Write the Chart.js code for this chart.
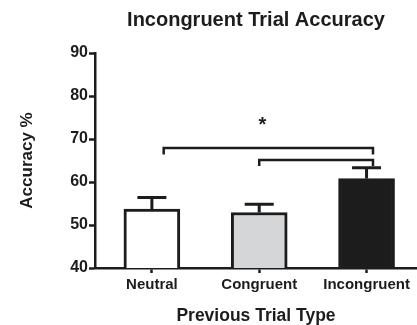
<!DOCTYPE html>
<html>
<head>
<meta charset="utf-8">
<script src="https://cdn.jsdelivr.net/npm/chart.js@4.4.1/dist/chart.umd.min.js"></script>
<style>
  html, body { margin: 0; padding: 0; background: #fff; }
  #wrap { width: 417px; height: 325px; }
</style>
</head>
<body>
<div id="wrap"><canvas id="chart"></canvas></div>
<script>
const categories = ['Neutral', 'Congruent', 'Incongruent'];
const accuracy = [53.7, 52.9, 60.8];
const sem = [2.7, 1.9, 2.5];
const barColors = ['#ffffff', '#d5d6d8', '#1c1c1c'];
const yTicks = [40, 50, 60, 70, 80, 90];

// significance brackets, x in category units (1 = first bar)
const bracketFrom = [1.11, 2.0];
const bracketTo = [3.06, 3.06];
const bracketLevel = [67.9, 65.1];
const bracketDrop = [1.5, 1.4];
const starX = 2.03;
const starLevel = 74;

const ink = '#1c1c1c';
const face = '"Liberation Sans", Arial, Helvetica, sans-serif';

// error bars, brackets and the star on top of the bars
const extras = {
    id: 'extras',
    afterDatasetsDraw(chart) {
        const ctx = chart.ctx;
        const x = chart.scales.x;
        const y = chart.scales.y;
        ctx.save();
        ctx.strokeStyle = ink;
        ctx.lineWidth = 3;
        accuracy.forEach((v, i) => {
            const cx = x.getPixelForValue(i + 1);
            const top = y.getPixelForValue(v + sem[i]);
            ctx.beginPath();
            ctx.moveTo(cx, y.getPixelForValue(v));
            ctx.lineTo(cx, top);
            ctx.moveTo(cx - 14.5, top);
            ctx.lineTo(cx + 14.5, top);
            ctx.stroke();
        });
        ctx.lineWidth = 2.5;
        bracketFrom.forEach((from, i) => {
            const lvl = y.getPixelForValue(bracketLevel[i]);
            const drop = y.getPixelForValue(bracketLevel[i] - bracketDrop[i]);
            const x0 = x.getPixelForValue(from);
            const x1 = x.getPixelForValue(bracketTo[i]);
            ctx.beginPath();
            ctx.moveTo(x0, drop);
            ctx.lineTo(x0, lvl);
            ctx.lineTo(x1, lvl);
            ctx.lineTo(x1, drop);
            ctx.stroke();
        });
        ctx.fillStyle = ink;
        ctx.font = 'bold 20px ' + face;
        ctx.textAlign = 'center';
        ctx.textBaseline = 'middle';
        ctx.fillText('*', x.getPixelForValue(starX), y.getPixelForValue(starLevel) + 4);
        ctx.restore();
    }
};

new Chart(document.getElementById('chart'), {
    type: 'bar',
    data: {
        datasets: [{
            data: accuracy.map((v, i) => ({ x: i + 1, y: v })),
            backgroundColor: barColors,
            borderColor: ink,
            borderWidth: 3,
            barThickness: 56
        }]
    },
    options: {
        responsive: true,
        maintainAspectRatio: false,
        animation: false,
        layout: { padding: 0 },
        plugins: {
            legend: { display: false },
            tooltip: { enabled: false },
            title: {
                display: true,
                fullSize: false,
                text: 'Incongruent Trial Accuracy',
                color: ink,
                font: { family: face, size: 20, weight: 'bold' },
                padding: { top: 8, bottom: 21 }
            }
        },
        scales: {
            x: {
                type: 'linear',
                offset: false,
                min: 0.47,
                max: 3.47,
                afterBuildTicks: s => { s.ticks = categories.map((c, i) => ({ value: i + 1 })); },
                afterFit: s => { s.height = 57; },
                ticks: {
                    callback: (v, i) => categories[i],
                    color: ink,
                    font: { family: face, size: 15, weight: 'bold' },
                    padding: 3,
                    maxRotation: 0,
                    autoSkip: false
                },
                grid: { offset: false, drawOnChartArea: false, tickLength: 5, tickWidth: 2.5, tickColor: ink },
                border: { color: ink, width: 2.5 },
                title: {
                    display: true,
                    text: 'Previous Trial Type',
                    color: ink,
                    font: { family: face, size: 17.5, weight: 'bold', lineHeight: 1 },
                    padding: { top: 0, bottom: 0 }
                }
            },
            y: {
                min: 40,
                max: 90,
                afterBuildTicks: s => { s.ticks = yTicks.map(v => ({ value: v })); },
                afterFit: s => { s.width = 95; },
                ticks: {
                    color: ink,
                    font: { family: face, size: 16, weight: 'bold' },
                    padding: 1
                },
                grid: { drawOnChartArea: false, tickLength: 6, tickWidth: 2.5, tickColor: ink },
                border: { color: ink, width: 2.5 },
                title: {
                    display: true,
                    text: 'Accuracy %',
                    color: ink,
                    font: { family: face, size: 17, weight: 'bold' },
                    padding: { top: 17, bottom: 0 }
                }
            }
        }
    },
    plugins: [extras]
});
</script>
</body>
</html>
